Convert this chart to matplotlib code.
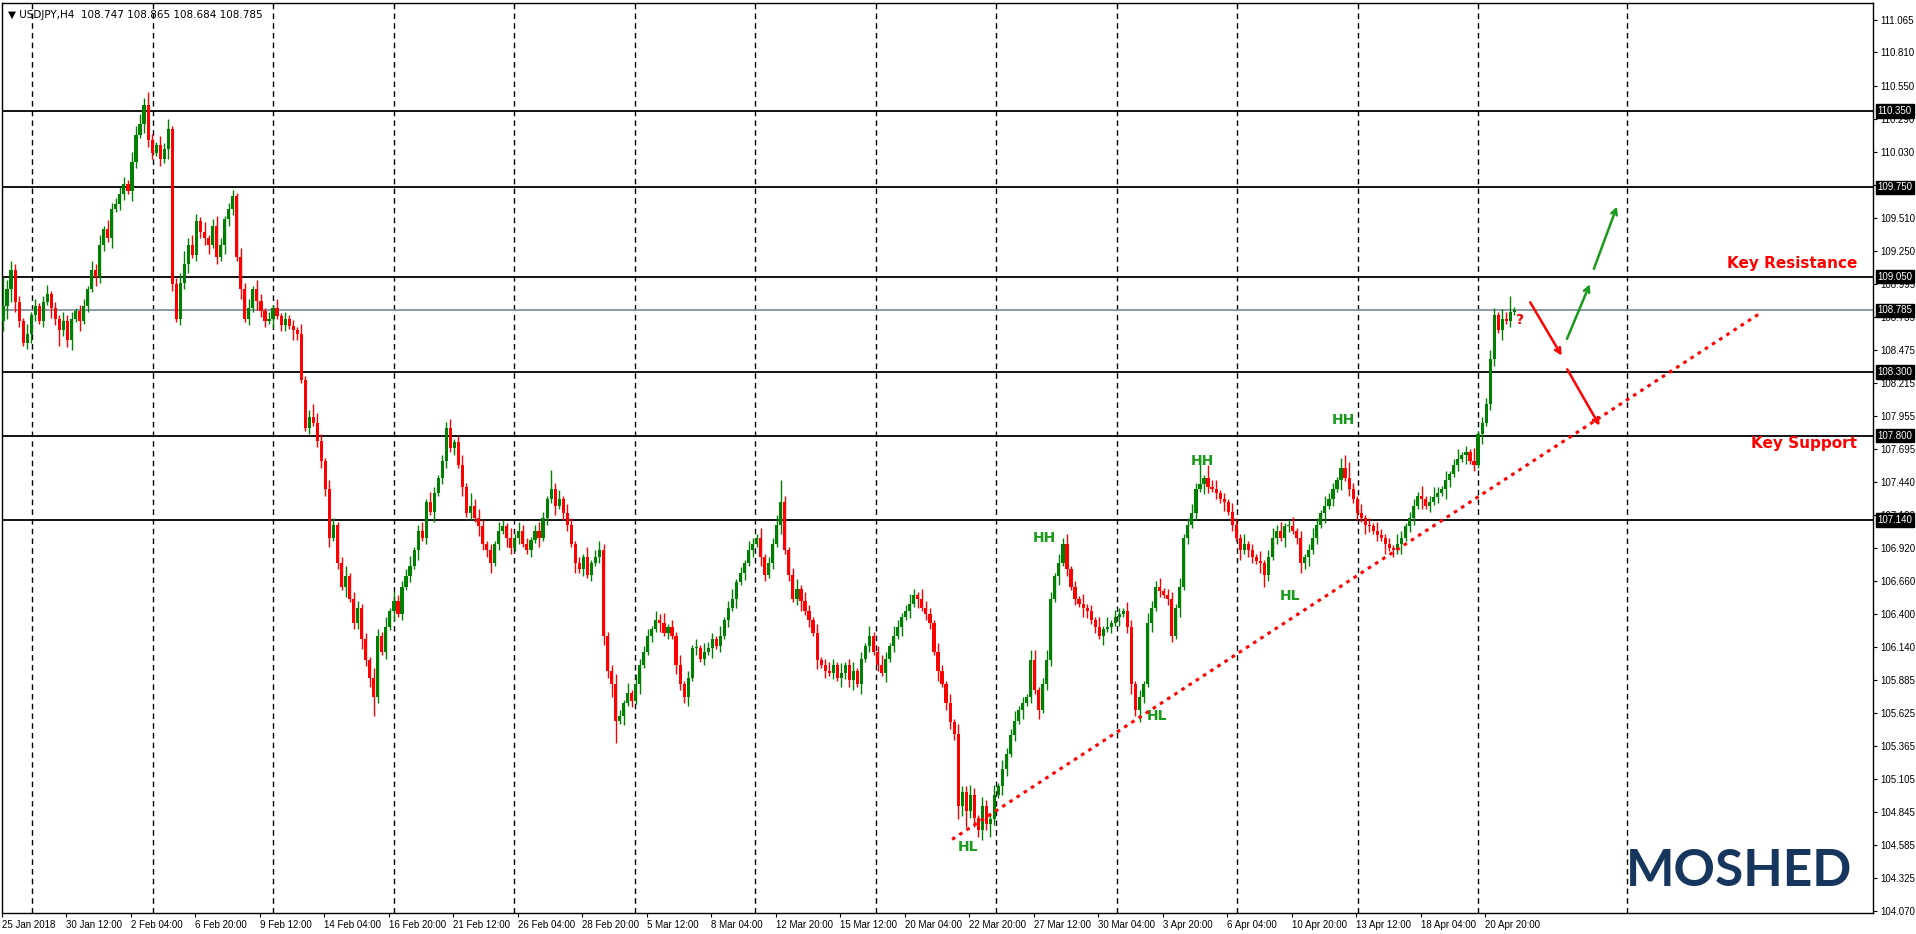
import matplotlib
matplotlib.use("Agg")
import matplotlib.pyplot as plt

# H4 closes (open = previous close)
closes = [
    108.82, 108.95, 109.10, 108.85, 108.70, 108.53, 108.60, 108.75, 108.82, 108.70,
    108.85, 108.91, 108.80, 108.72, 108.63, 108.70, 108.55, 108.72, 108.78, 108.70,
    108.82, 108.95, 109.10, 109.05, 109.30, 109.42, 109.35, 109.58, 109.62, 109.70,
    109.78, 109.72, 109.95, 110.16, 110.25, 110.40, 110.12, 110.02, 110.08, 109.97,
    110.05, 110.21, 108.99, 108.72, 109.00, 109.15, 109.30, 109.22, 109.49, 109.40,
    109.35, 109.30, 109.45, 109.20, 109.30, 109.50, 109.58, 109.68, 109.20, 108.95,
    108.72, 108.80, 108.95, 108.86, 108.78, 108.70, 108.72, 108.80, 108.74, 108.67,
    108.72, 108.66, 108.63, 108.60, 108.24, 107.86, 107.95, 107.90, 107.76, 107.60,
    107.38, 107.00, 107.10, 106.80, 106.61, 106.70, 106.52, 106.33, 106.45, 106.20,
    106.04, 105.90, 105.75, 106.23, 106.10, 106.30, 106.42, 106.50, 106.40, 106.61,
    106.70, 106.78, 106.90, 107.05, 107.00, 107.28, 107.20, 107.35, 107.47, 107.60,
    107.86, 107.70, 107.75, 107.57, 107.40, 107.19, 107.25, 107.15, 107.09, 106.95,
    106.90, 106.80, 106.95, 107.05, 107.09, 107.00, 106.92, 107.00, 107.05, 106.95,
    106.90, 106.98, 107.05, 107.00, 107.15, 107.30, 107.38, 107.25, 107.30, 107.19,
    107.10, 106.95, 106.80, 106.75, 106.85, 106.71, 106.80, 106.85, 106.90, 106.23,
    105.95, 105.85, 105.56, 105.60, 105.70, 105.78, 105.72, 105.85, 106.00, 106.10,
    106.23, 106.28, 106.35, 106.33, 106.25, 106.30, 106.23, 106.00, 105.85, 105.75,
    105.90, 106.13, 106.13, 106.05, 106.10, 106.13, 106.20, 106.15, 106.23, 106.35,
    106.45, 106.52, 106.65, 106.72, 106.80, 106.90, 106.95, 107.00, 106.85, 106.71,
    106.80, 106.95, 107.10, 107.28, 106.90, 106.71, 106.52, 106.60, 106.50, 106.42,
    106.35, 106.25, 106.04, 106.00, 105.95, 105.94, 106.00, 105.90, 105.94, 106.00,
    105.88, 105.95, 105.85, 106.05, 106.15, 106.23, 106.10, 106.00, 105.94, 106.05,
    106.15, 106.23, 106.30, 106.38, 106.42, 106.48, 106.55, 106.52, 106.45, 106.40,
    106.33, 106.10, 105.95, 105.85, 105.70, 105.55, 105.46, 104.89, 105.00, 104.85,
    104.98, 104.80, 104.70, 104.89, 104.75, 104.79, 104.98, 105.05, 105.18, 105.30,
    105.45, 105.56, 105.65, 105.70, 105.75, 106.04, 105.80, 105.65, 105.85, 106.04,
    106.52, 106.70, 106.80, 106.95, 106.75, 106.61, 106.52, 106.48, 106.45, 106.42,
    106.35, 106.30, 106.23, 106.28, 106.30, 106.33, 106.38, 106.40, 106.42, 106.30,
    105.85, 105.65, 105.75, 105.85, 106.33, 106.45, 106.61, 106.58, 106.55, 106.52,
    106.23, 106.45, 106.61, 107.00, 107.10, 107.19, 107.38, 107.42, 107.47, 107.40,
    107.38, 107.35, 107.30, 107.28, 107.20, 107.10, 107.00, 106.90, 106.95, 106.90,
    106.85, 106.82, 106.80, 106.71, 106.85, 107.00, 107.05, 107.00, 107.09, 107.09,
    107.05, 107.00, 106.80, 106.85, 106.90, 107.00, 107.10, 107.19, 107.25, 107.30,
    107.38, 107.45, 107.55, 107.47, 107.38, 107.30, 107.19, 107.15, 107.10, 107.09,
    107.05, 107.02, 107.00, 106.95, 106.92, 106.90, 106.95, 107.00, 107.09, 107.15,
    107.25, 107.33, 107.30, 107.25, 107.28, 107.32, 107.35, 107.38, 107.45, 107.50,
    107.57, 107.62, 107.65, 107.67, 107.60, 107.57, 107.81, 107.90, 108.05, 108.40,
    108.75, 108.63, 108.72, 108.70, 108.77, 108.785,
]
first_open = 108.70

# wick lengths per candle, in steps of 0.025
hi_wick = ("9332213121" "2312132212" "2132313222" "2133324213" "2312342321"
           "3123212213" "2313212131" "2121312432" "1321231221" "2132131322"
           "2312313212" "2312314232" "1213213132" "2123216231" "3212131232"
           "1232131322" "2132312131" "2131322131" "2312132131" "2237212313"
           "2131232131" "2312131232" "1321232132" "2132131322" "3213223132"
           "2312133123" "2132312131" "2131312213" "2121322312" "2131232814"
           "2312132131" "2131232312" "3121232132" "2134521312" "1321213212"
           "2131232131" "2312141223" "213251")
lo_wick = ("3443212321" "2132522313" "1213221312" "2132132212" "1321223122"
           "2312132213" "1213221312" "2132112122" "2312131223" "2362121312"
           "1213121312" "2121312132" "2312132121" "1213121312" "2131212123"
           "2471312131" "1213121322" "3121213121" "2131212132" "1213121231"
           "2131212132" "2313121213" "1213121312" "2131222435" "2323242132"
           "1213121312" "2131212132" "1213121312" "3242131212" "2131212132"
           "1213121312" "2134212132" "1232312131" "2131212132" "1213121312"
           "2131212132" "1213121312" "213121")

level_lines = [110.350, 109.750, 109.050, 108.300, 107.800, 107.140]
last_price = 108.785
price_ticks = [111.065, 110.810, 110.550, 110.290, 110.030, 109.770, 109.510, 109.250,
               108.995, 108.735, 108.475, 108.215, 107.955, 107.695, 107.440, 107.180,
               106.920, 106.660, 106.400, 106.140, 105.885, 105.625, 105.365, 105.105,
               104.845, 104.585, 104.325, 104.070]
date_labels = ["25 Jan 2018", "30 Jan 12:00", "2 Feb 04:00", "6 Feb 20:00", "9 Feb 12:00",
               "14 Feb 04:00", "16 Feb 20:00", "21 Feb 12:00", "26 Feb 04:00", "28 Feb 20:00",
               "5 Mar 12:00", "8 Mar 04:00", "12 Mar 20:00", "15 Mar 12:00", "20 Mar 04:00",
               "22 Mar 20:00", "27 Mar 12:00", "30 Mar 04:00", "3 Apr 20:00", "6 Apr 04:00",
               "10 Apr 20:00", "13 Apr 12:00", "18 Apr 04:00", "20 Apr 20:00"]
date_step = 16
grid_bars = [7.2, 37.1, 67.0, 96.9, 126.8, 156.7, 186.6, 216.5, 246.4, 276.3, 306.2,
             336.1, 366.0, 403.0]

# annotations (bar index, price)
hh_points = [(258.3, 107.00), (297.5, 107.60), (332.5, 107.92)]
hl_points = [(239.5, 104.57), (286.4, 105.60), (319.4, 106.54)]
trend = [(235.5, 104.63), (435.7, 108.756)]
red_arrows = [((378.6, 108.866), (387.1, 108.41)), ((387.8, 108.34), (396.5, 107.86))]
green_arrows = [((387.8, 108.54), (394.0, 109.01)), ((394.5, 109.09), (400.7, 109.62))]

GREEN = "#008000"
RED = "#ff0000"
plt.rcParams["font.family"] = ["Liberation Sans", "DejaVu Sans"]

fig = plt.figure(figsize=(19.16, 9.34), dpi=100)
ax = fig.add_axes([2 / 1916, 21 / 934, 1871 / 1916, 910 / 934])
ax.set_xlim(-0.25, 464)
ax.set_ylim(104.052, 111.198)

for gx in grid_bars:
    ax.axvline(gx, color="black", lw=1, ls=(0, (4, 3)), zorder=1)
for lv in level_lines:
    ax.axhline(lv, color="black", lw=1.3, zorder=2)
ax.axhline(last_price, color="#778899", lw=1.2, zorder=2)

prev = first_open
for i, c in enumerate(closes):
    o = prev
    hi = max(o, c) + int(hi_wick[i]) * 0.025
    lo = min(o, c) - int(lo_wick[i]) * 0.025
    col = GREEN if c >= o else RED
    ax.vlines(i, lo, hi, color=col, lw=1, zorder=3)
    body = max(abs(c - o), 0.008)
    ax.bar(i, body, bottom=min(o, c), width=0.78, color=col, lw=0, zorder=4)
    prev = c

ax.plot(*zip(*trend), color=RED, lw=2.2, ls=(0, (1.2, 1.6)), zorder=5)
for (x0, y0), (x1, y1) in red_arrows:
    ax.annotate("", xy=(x1, y1), xytext=(x0, y0),
                arrowprops=dict(arrowstyle="->", color=RED, lw=1.8), zorder=6)
for (x0, y0), (x1, y1) in green_arrows:
    ax.annotate("", xy=(x1, y1), xytext=(x0, y0),
                arrowprops=dict(arrowstyle="->", color="#1a9a1a", lw=1.8), zorder=6)

for x, y in hh_points:
    ax.text(x, y, "HH", color="#1a9a1a", fontsize=10, fontweight="bold", ha="center", va="center",
            family="DejaVu Sans")
for x, y in hl_points:
    ax.text(x, y, "HL", color="#1a9a1a", fontsize=10, fontweight="bold", ha="center", va="center",
            family="DejaVu Sans")
ax.text(376.4, 108.71, "?", color=RED, fontsize=10, fontweight="bold", ha="center", va="center",
        family="DejaVu Sans")
ax.text(460, 109.15, "Key Resistance", color=RED, fontsize=11, fontweight="bold", ha="right",
        va="center", family="DejaVu Sans")
ax.text(460, 107.735, "Key Support", color=RED, fontsize=11, fontweight="bold", ha="right",
        va="center", family="DejaVu Sans")
ax.text(0.989, 0.02, "MOSHED", transform=ax.transAxes, color="#17365d", fontsize=37,
        fontweight="bold", ha="right", va="bottom", family="Lato")
ax.text(0.003, 0.992, "\u25bc USDJPY,H4  108.747 108.865 108.684 108.785", transform=ax.transAxes,
        fontsize=7.5, color="black", ha="left", va="top", family=["DejaVu Sans"])

ax.yaxis.tick_right()
ax.set_yticks(price_ticks)
ax.set_yticklabels([f"{p:.3f}" for p in price_ticks])
ax.set_xticks([k * date_step - 0.25 for k in range(len(date_labels))])
ax.set_xticklabels(date_labels, ha="left")
ax.tick_params(axis="both", labelsize=7, length=3, direction="out", pad=2)

for lv in level_lines + [last_price]:
    ax.text(1.0025, lv, f"{lv:.3f}", transform=ax.get_yaxis_transform(), fontsize=7,
            color="white", ha="left", va="center", zorder=10,
            bbox=dict(boxstyle="square,pad=0.18", fc="black", ec="black"))

for s in ax.spines.values():
    s.set_linewidth(1)

fig.savefig("out.png", dpi=100, facecolor="white")
